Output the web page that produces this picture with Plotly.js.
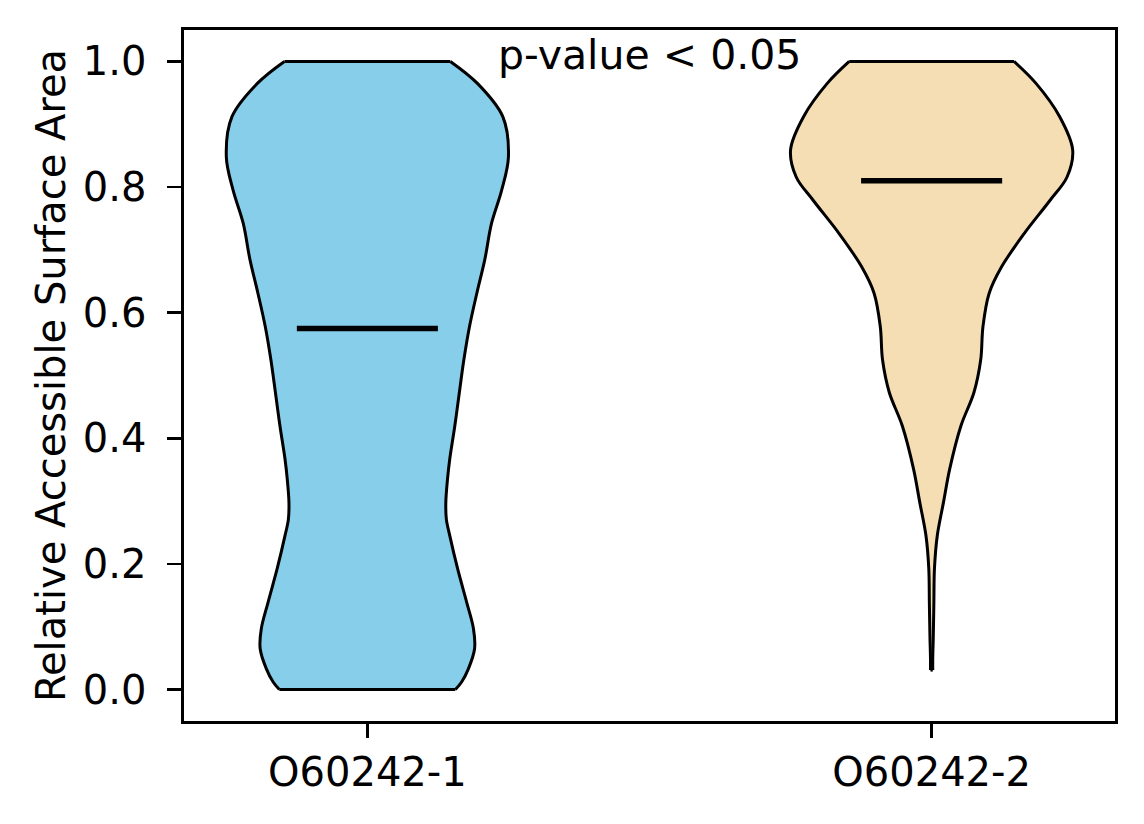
<!DOCTYPE html>
<html><head><meta charset="utf-8">
<script src="https://cdn.plot.ly/plotly-3.0.1.min.js"></script>
<style>html,body{margin:0;padding:0;background:#fff}#chart{width:1144px;height:824px}</style>
</head><body><div id="chart"></div>
<script>
// ---- data ----
const categories = ["O60242-1", "O60242-2"];
const positions = [1, 2];
// violin outlines: y level and half-width (in x-axis units) of the density profile
const v1Y    = [0, 0.012, 0.033, 0.065, 0.097, 0.139, 0.192, 0.245, 0.271, 0.298, 0.335, 0.367, 0.42, 0.473, 0.525, 0.578, 0.631, 0.684, 0.742, 0.795, 0.848, 0.912, 0.965, 1.0];
const v1Half = [0.156, 0.167, 0.179, 0.190, 0.188, 0.176, 0.160, 0.146, 0.140, 0.139, 0.142, 0.146, 0.155, 0.163, 0.171, 0.181, 0.194, 0.208, 0.220, 0.238, 0.250, 0.240, 0.195, 0.147];
const v2Y    = [0.031, 0.05, 0.086, 0.139, 0.192, 0.245, 0.298, 0.351, 0.42, 0.473, 0.525, 0.578, 0.631, 0.673, 0.726, 0.779, 0.816, 0.859, 0.912, 0.965, 1.0];
const v2Half = [0.002, 0.002, 0.003, 0.004, 0.005, 0.010, 0.021, 0.032, 0.052, 0.075, 0.087, 0.091, 0.102, 0.124, 0.164, 0.210, 0.240, 0.250, 0.227, 0.185, 0.146];
const medians = [0.575, 0.81];
const pText = "p-value < 0.05";
const yTickVals = [0, 0.2, 0.4, 0.6, 0.8, 1.0];
const yTickText = ["0.0", "0.2", "0.4", "0.6", "0.8", "1.0"];
const yTitle = "Relative Accessible Surface Area";

// ---- styling ----
const fillColors = ["#87CEEB", "#F5DEB3"];
const medianHalf = 0.125;
const FONT = "DejaVu Sans, Verdana, sans-serif";
const FS = 40;
const EDGE = 3;

const profiles = [[v1Y, v1Half], [v2Y, v2Half]];
const traces = [];
const sideLine = {color: "black", width: EDGE, shape: "spline", smoothing: 1};
profiles.forEach(([ys, hs], k) => {
  const c = positions[k];
  const leftX = hs.map(h => c - h);
  const rightX = hs.map(h => c + h);
  // left side of the violin
  traces.push({
    type: "scatter", mode: "lines", x: leftX, y: ys,
    line: sideLine, hoverinfo: "skip", showlegend: false
  });
  // right side, filled towards the left side
  traces.push({
    type: "scatter", mode: "lines", x: rightX, y: ys,
    fill: "tonextx", fillcolor: fillColors[k],
    line: sideLine, hoverinfo: "skip", showlegend: false
  });
});
profiles.forEach(([ys, hs], k) => {
  const c = positions[k];
  const n = ys.length - 1;
  // flat caps at the min and max
  [0, n].forEach(i => {
    traces.push({
      type: "scatter", mode: "lines",
      x: [c - hs[i], c + hs[i]], y: [ys[i], ys[i]],
      line: {color: "black", width: EDGE}, hoverinfo: "skip", showlegend: false
    });
  });
  // median
  traces.push({
    type: "scatter", mode: "lines",
    x: [c - medianHalf, c + medianHalf], y: [medians[k], medians[k]],
    line: {color: "black", width: 5.5}, hoverinfo: "skip", showlegend: false
  });
});

const axisCommon = {
  showline: true, mirror: true, linecolor: "black", linewidth: 2.6,
  ticks: "outside", ticklen: 14, tickwidth: 2.6, tickcolor: "black",
  showgrid: false, zeroline: false,
  tickfont: {family: FONT, size: FS, color: "black"}
};

const layout = {
  width: 1144, height: 824,
  margin: {l: 184, r: 29, t: 30, b: 103},
  paper_bgcolor: "white", plot_bgcolor: "white",
  font: {family: FONT, size: FS, color: "black"},
  xaxis: Object.assign({}, axisCommon, {
    range: [0.675, 2.325], tickmode: "array", tickvals: positions, ticktext: categories,
    ticklabelstandoff: 0
  }),
  yaxis: Object.assign({}, axisCommon, {
    range: [-0.05, 1.05], tickmode: "array", tickvals: yTickVals, ticktext: yTickText,
    ticklabelstandoff: 13,
    title: {text: yTitle, font: {family: FONT, size: FS, color: "black"}, standoff: 5}
  }),
  annotations: [{
    x: 1.5, y: 1.011, xref: "x", yref: "y", text: pText, showarrow: false,
    xanchor: "center", yanchor: "middle", font: {family: FONT, size: 41, color: "black"}
  }]
};

Plotly.newPlot("chart", traces, layout, {displayModeBar: false, staticPlot: true});
</script>
</body></html>
